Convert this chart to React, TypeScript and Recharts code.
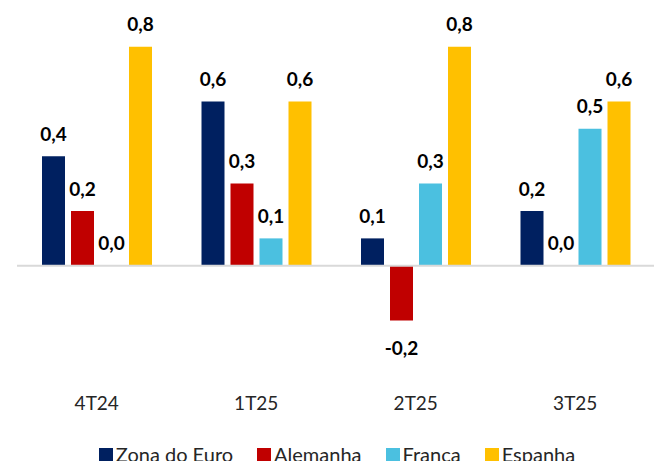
import React from 'react';
import { BarChart, Bar, XAxis, YAxis, ReferenceLine, LabelList, Legend } from 'recharts';

const quarters = ['4T24', '1T25', '2T25', '3T25'];
const zonaEuro = [0.4, 0.6, 0.1, 0.2];
const alemanha = [0.2, 0.3, -0.2, 0.0];
const franca = [0.0, 0.1, 0.3, 0.5];
const espanha = [0.8, 0.6, 0.8, 0.6];

const series = [
    { key: 'zona', name: 'Zona do Euro', color: '#002060', values: zonaEuro },
    { key: 'alemanha', name: 'Alemanha', color: '#C00000', values: alemanha },
    { key: 'franca', name: 'Franca', color: '#4BC0E0', values: franca },
    { key: 'espanha', name: 'Espanha', color: '#FFC000', values: espanha },
];

const data = quarters.map((q, i) => {
    const row: Record<string, string | number> = { quarter: q };
    series.forEach(s => { row[s.key] = s.values[i]; });
    return row;
});

const fmt = (v: number) => v.toFixed(1).replace('.', ',');

const ValueLabel = (props: any) => {
    const { x, y, width, height, value } = props;
    const top = Math.min(y, y + height);
    const bottom = Math.max(y, y + height);
    const cy = value < 0 ? bottom + 27 : top - 23;
    return (
        <text
            x={x + width / 2}
            y={cy}
            textAnchor="middle"
            dominantBaseline="central"
            fill="#000"
            fontSize={19}
            fontWeight={700}
        >
            {fmt(Number(value))}
        </text>
    );
};

const LegendContent = () => (
    <div style={{ height: 26, display: 'flex', justifyContent: 'center', gap: 24, paddingLeft: 2 }}>
        {series.map(s => (
            <div key={s.key} style={{ display: 'flex', alignItems: 'flex-start', gap: 3 }}>
                <span style={{ width: 14, height: 14, background: s.color, marginTop: 6 }} />
                <span style={{ fontSize: 20, lineHeight: '24px', color: '#262626' }}>{s.name}</span>
            </div>
        ))}
    </div>
);

export default function App() {
    return (
        <div style={{ position: 'fixed', left: 0, top: 0, width: 654, height: 461, overflow: 'hidden', background: '#fff', fontFamily: 'Lato, sans-serif' }}>
            <BarChart
                width={655}
                height={468}
                data={data}
                margin={{ top: 33, right: 0, left: 17, bottom: 0 }}
                barSize={23}
                barGap={6}
            >
                <XAxis
                    dataKey="quarter"
                    axisLine={false}
                    tickLine={false}
                    height={53}
                    tick={{ fill: '#262626', fontSize: 19 }}
                />
                <YAxis hide domain={[-0.45, 0.85]} />
                <ReferenceLine y={0} stroke="#D9D9D9" strokeWidth={2} />
                <Legend verticalAlign="bottom" content={<LegendContent />} />
                {series.map(s => (
                    <Bar key={s.key} dataKey={s.key} name={s.name} fill={s.color} minPointSize={0.01} isAnimationActive={false}>
                        <LabelList dataKey={s.key} content={<ValueLabel />} />
                    </Bar>
                ))}
            </BarChart>
        </div>
    );
}
